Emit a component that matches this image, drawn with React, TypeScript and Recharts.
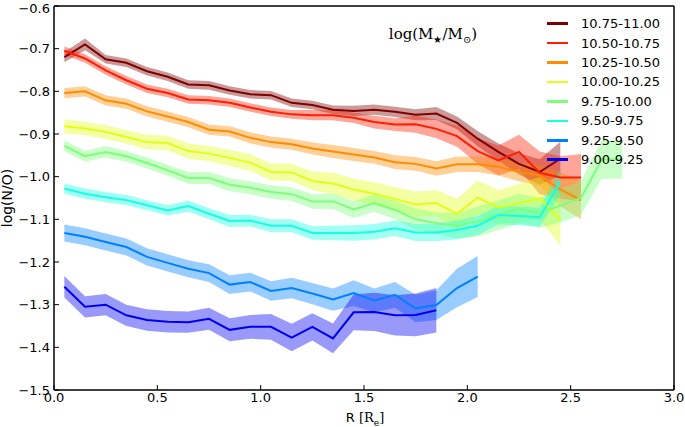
import React from 'react';
import { ComposedChart, Area, Line, XAxis, YAxis, ReferenceArea } from 'recharts';

const R = [0.05, 0.15, 0.25, 0.35, 0.45, 0.55, 0.65, 0.75, 0.85, 0.95, 1.05, 1.15, 1.25, 1.35, 1.45, 1.55, 1.65, 1.75, 1.85, 1.95, 2.05, 2.15, 2.25, 2.35, 2.45, 2.55, 2.65, 2.75];

const labels = ['10.75-11.00', '10.50-10.75', '10.25-10.50', '10.00-10.25', '9.75-10.00', '9.50-9.75', '9.25-9.50', '9.00-9.25'];
const colors = ['#7f0000', '#ff1e00', '#ff8c00', '#e0ff17', '#7dff7a', '#17ffe0', '#0080ff', '#0000f1'];

const m1075 = [-0.720, -0.690, -0.725, -0.733, -0.753, -0.766, -0.784, -0.786, -0.798, -0.807, -0.809, -0.827, -0.832, -0.843, -0.846, -0.843, -0.848, -0.855, -0.852, -0.874, -0.911, -0.942, -0.970, -0.989, -0.958];
const e1075 = [0.012, 0.014, 0.010, 0.010, 0.010, 0.010, 0.010, 0.010, 0.010, 0.010, 0.010, 0.010, 0.010, 0.010, 0.012, 0.012, 0.012, 0.013, 0.015, 0.015, 0.018, 0.020, 0.025, 0.030, 0.040];

const m1050 = [-0.705, -0.723, -0.751, -0.774, -0.794, -0.804, -0.819, -0.821, -0.827, -0.838, -0.848, -0.854, -0.856, -0.856, -0.862, -0.872, -0.878, -0.877, -0.888, -0.905, -0.940, -0.962, -0.942, -0.991, -1.002, -1.002];
const e1050 = [0.010, 0.010, 0.010, 0.010, 0.010, 0.010, 0.010, 0.010, 0.010, 0.010, 0.010, 0.010, 0.012, 0.012, 0.012, 0.015, 0.015, 0.020, 0.022, 0.025, 0.030, 0.035, 0.040, 0.050, 0.050, 0.055];

const m1025 = [-0.804, -0.800, -0.821, -0.829, -0.847, -0.859, -0.872, -0.890, -0.894, -0.909, -0.919, -0.924, -0.934, -0.941, -0.948, -0.955, -0.966, -0.970, -0.981, -0.971, -0.971, -0.977, -0.989, -0.997, -1.030, -1.055];
const e1025 = [0.012, 0.012, 0.012, 0.012, 0.012, 0.012, 0.012, 0.012, 0.012, 0.013, 0.013, 0.013, 0.014, 0.015, 0.015, 0.015, 0.016, 0.016, 0.017, 0.018, 0.018, 0.020, 0.022, 0.025, 0.040, 0.045];

const m1000 = [-0.882, -0.887, -0.895, -0.907, -0.919, -0.921, -0.940, -0.946, -0.956, -0.967, -0.989, -0.990, -1.010, -1.016, -1.030, -1.040, -1.052, -1.065, -1.062, -1.087, -1.049, -1.072, -1.062, -1.051, -1.101];
const e1000 = [0.016, 0.016, 0.016, 0.016, 0.017, 0.017, 0.018, 0.018, 0.019, 0.020, 0.020, 0.020, 0.022, 0.025, 0.025, 0.027, 0.028, 0.030, 0.030, 0.035, 0.040, 0.040, 0.045, 0.050, 0.060];

const m975 = [-0.928, -0.952, -0.942, -0.952, -0.968, -0.985, -1.003, -1.003, -1.019, -1.026, -1.036, -1.041, -1.058, -1.058, -1.077, -1.062, -1.078, -1.100, -1.109, -1.115, -1.105, -1.090, -1.075, -1.085, -1.068, -1.050, -0.960, -0.960];
const e975 = [0.013, 0.013, 0.013, 0.013, 0.013, 0.013, 0.014, 0.014, 0.015, 0.015, 0.016, 0.016, 0.017, 0.018, 0.020, 0.020, 0.022, 0.025, 0.025, 0.030, 0.035, 0.035, 0.035, 0.035, 0.040, 0.040, 0.045, 0.045];

const m950 = [-1.028, -1.040, -1.048, -1.055, -1.067, -1.079, -1.069, -1.087, -1.104, -1.103, -1.115, -1.115, -1.132, -1.132, -1.132, -1.129, -1.121, -1.131, -1.131, -1.125, -1.115, -1.090, -1.092, -1.095, -1.012];
const e950 = [0.012, 0.012, 0.012, 0.012, 0.012, 0.012, 0.013, 0.013, 0.014, 0.014, 0.015, 0.015, 0.016, 0.017, 0.018, 0.018, 0.018, 0.020, 0.020, 0.022, 0.022, 0.022, 0.022, 0.022, 0.030];

const m925 = [-1.132, -1.141, -1.153, -1.165, -1.188, -1.202, -1.216, -1.226, -1.253, -1.247, -1.268, -1.261, -1.274, -1.288, -1.273, -1.290, -1.277, -1.309, -1.301, -1.261, -1.234];
const e925 = [0.020, 0.020, 0.020, 0.020, 0.020, 0.020, 0.020, 0.021, 0.022, 0.022, 0.023, 0.024, 0.025, 0.026, 0.030, 0.028, 0.030, 0.032, 0.035, 0.045, 0.048];

const m900 = [-1.258, -1.305, -1.300, -1.325, -1.336, -1.340, -1.341, -1.333, -1.359, -1.352, -1.352, -1.377, -1.352, -1.379, -1.318, -1.317, -1.325, -1.324, -1.313];
const e900 = [0.025, 0.025, 0.025, 0.025, 0.025, 0.025, 0.025, 0.026, 0.027, 0.028, 0.030, 0.032, 0.032, 0.035, 0.042, 0.045, 0.047, 0.050, 0.052];

const xTicks = [0, 0.5, 1.0, 1.5, 2.0, 2.5, 3.0];
const yTicks = [-1.5, -1.4, -1.3, -1.2, -1.1, -1.0, -0.9, -0.8, -0.7, -0.6];

const seriesVals = [m1075, m1050, m1025, m1000, m975, m950, m925, m900];
const seriesErr = [e1075, e1050, e1025, e1000, e975, e950, e925, e900];

const data = R.map((r, i) => {
  const row: any = { r };
  seriesVals.forEach((vals, k) => {
    if (i < vals.length) {
      row['v' + k] = vals[i];
      row['b' + k] = [vals[i] - seriesErr[k][i], vals[i] + seriesErr[k][i]];
    }
  });
  return row;
});

const FONT = '"DejaVu Sans", sans-serif';
const fmtY = (v: number) => (v < 0 ? '\u2212' : '') + Math.abs(v).toFixed(1);
const fmtX = (v: number) => v.toFixed(1);

const LegendBox = () => (
  <div style={{ position: 'absolute', left: 547, top: 14, width: 140, height: 160 }}>
    {labels.map((l, i) => (
      <div key={l} style={{ position: 'absolute', left: 0, top: i * 19.43, height: 19.4, display: 'flex', alignItems: 'center' }}>
        <div style={{ width: 21, height: 2.5, background: colors[i] }} />
        <span style={{ marginLeft: 13, fontSize: 13, fontFamily: FONT, color: '#000', whiteSpace: 'nowrap' }}>{l}</span>
      </div>
    ))}
  </div>
);

export default function App() {
  const items: any[] = [];
  seriesVals.forEach((_, k) => {
    items.push(
      <Area key={'a' + k} dataKey={'b' + k} xAxisId="b" yAxisId="l" stroke="none" fill={colors[k]} fillOpacity={0.4} isAnimationActive={false} connectNulls={false} dot={false} activeDot={false} />
    );
    items.push(
      <Line key={'l' + k} dataKey={'v' + k} xAxisId="b" yAxisId="l" stroke={colors[k]} strokeWidth={2} dot={false} activeDot={false} isAnimationActive={false} connectNulls={false} />
    );
  });
  return (
    <div style={{ position: 'absolute', left: 0, top: 0, width: 685, height: 427, background: '#fff' }}>
      <ComposedChart width={685} height={427} data={data} margin={{ top: 5, right: 10, bottom: 7, left: 8 }}>
        <XAxis xAxisId="b" dataKey="r" type="number" domain={[0, 3]} ticks={xTicks} tickFormatter={fmtX} allowDataOverflow
          height={30} tickSize={-5} tickMargin={8} stroke="#000" tick={{ fill: '#000', fontSize: 13, fontFamily: FONT }} />
        <XAxis xAxisId="t" orientation="top" dataKey="r" type="number" domain={[0, 3]} ticks={xTicks} allowDataOverflow
          height={1} tickSize={-5} tick={false} stroke="#000" />
        <YAxis yAxisId="l" type="number" domain={[-1.5, -0.6]} ticks={yTicks} tickFormatter={fmtY} allowDataOverflow
          width={46} tickSize={-5} tickMargin={9} stroke="#000" tick={{ fill: '#000', fontSize: 13, fontFamily: FONT }} />
        <YAxis yAxisId="r" orientation="right" type="number" domain={[-1.5, -0.6]} ticks={yTicks} allowDataOverflow
          width={1} tickSize={-5} tick={false} stroke="#000" />
        {items}
        <ReferenceArea xAxisId="b" yAxisId="l" x1={0} x2={3} y1={-1.5} y2={-0.6} fill="none" fillOpacity={0} stroke="#000" strokeWidth={1} ifOverflow="visible" />
      </ComposedChart>
      <LegendBox />
      <div style={{ position: 'absolute', left: 7, top: 198, transform: 'translate(-50%, -50%) rotate(-90deg)', fontFamily: FONT, fontSize: 14, whiteSpace: 'nowrap', color: '#000' }}>
        log(N/O)
      </div>
      <div style={{ position: 'absolute', left: 365, top: 419, transform: 'translate(-50%, -50%)', fontSize: 13, whiteSpace: 'nowrap', color: '#000' }}>
        <span style={{ fontFamily: FONT }}>R </span>
        <span style={{ fontFamily: '"DejaVu Serif", serif' }}>[R<sub style={{ fontSize: 9 }}>e</sub>]</span>
      </div>
      <div style={{ position: 'absolute', left: 433, top: 35, transform: 'translate(-50%, -50%)', fontFamily: '"DejaVu Serif", serif', fontSize: 15, whiteSpace: 'nowrap', color: '#000' }}>
        log(M<sub style={{ fontSize: 10 }}>{'\u2605'}</sub>/M<sub style={{ fontSize: 10 }}>{'\u2299'}</sub>)
      </div>
    </div>
  );
}
